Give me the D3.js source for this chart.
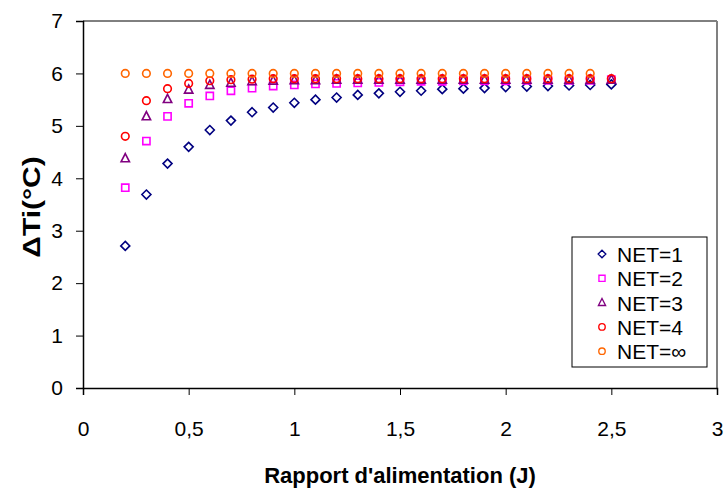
<!DOCTYPE html>
<html>
<head>
<meta charset="utf-8">
<script src="https://cdn.jsdelivr.net/npm/d3@7"></script>
<style>
body{margin:0;background:#fff;}
text{font-family:"Liberation Sans",Arial,sans-serif;}
</style>
</head>
<body>
<svg id="chart" width="727" height="490"></svg>
<script>
const xValues = [0.2,0.3,0.4,0.5,0.6,0.7,0.8,0.9,1.0,1.1,1.2,1.3,1.4,1.5,1.6,1.7,1.8,1.9,2.0,2.1,2.2,2.3,2.4,2.5];
const net1 = [2.71,3.69,4.28,4.60,4.92,5.10,5.26,5.35,5.44,5.50,5.54,5.59,5.62,5.65,5.67,5.70,5.71,5.72,5.74,5.75,5.76,5.77,5.78,5.79];
const net2 = [3.82,4.71,5.18,5.43,5.57,5.67,5.72,5.76,5.78,5.80,5.81,5.82,5.83,5.84,5.85,5.85,5.86,5.86,5.86,5.87,5.87,5.87,5.87,5.88];
const net3 = [4.38,5.18,5.51,5.69,5.78,5.82,5.85,5.86,5.87,5.87,5.88,5.88,5.88,5.88,5.88,5.88,5.88,5.88,5.88,5.88,5.88,5.88,5.88,5.88];
const net4 = [4.80,5.48,5.71,5.81,5.86,5.88,5.89,5.90,5.90,5.90,5.90,5.90,5.90,5.90,5.90,5.90,5.90,5.90,5.90,5.90,5.90,5.90,5.90,5.90];
const netInf = [6.0,6.0,6.0,6.0,6.0,6.0,6.0,6.0,6.0,6.0,6.0,6.0,6.0,6.0,6.0,6.0,6.0,6.0,6.0,6.0,6.0,6.0,6.0];
const seriesNames = ["NET=1","NET=2","NET=3","NET=4","NET=∞"];
const xTicks = [0,0.5,1,1.5,2,2.5,3];
const yTicks = [0,1,2,3,4,5,6,7];
const xTitle = "Rapport d'alimentation (J)";
const yTitle = "ΔTi(°C)";

const series = [
  {name: seriesNames[0], values: net1, color: "#000080", shape: "diamond"},
  {name: seriesNames[1], values: net2, color: "#FF00FF", shape: "square"},
  {name: seriesNames[2], values: net3, color: "#800080", shape: "triangle"},
  {name: seriesNames[3], values: net4, color: "#FF0000", shape: "circle"},
  {name: seriesNames[4], values: netInf, color: "#FF6600", shape: "circle"}
];

const svg = d3.select("#chart");
const L = 83, R = 717, T = 21, B = 388;
const x = d3.scaleLinear().domain([0,3]).range([L,R]);
const y = d3.scaleLinear().domain([0,7]).range([B,T]);

function shapePath(shape){
  if (shape === "diamond") return "M0,-4.5L4.5,0L0,4.5L-4.5,0Z";
  if (shape === "square") return "M-3.6,-3.6H3.6V3.6H-3.6Z";
  if (shape === "triangle") return "M0,-4.8L4.2,3.4H-4.2Z";
  return "M-3.8,0A3.8,3.8 0 1,0 3.8,0A3.8,3.8 0 1,0 -3.8,0Z";
}

// frame
svg.append("line").attr("x1",L).attr("x2",R).attr("y1",T).attr("y2",T).attr("stroke","#000").attr("stroke-width",1);
svg.append("line").attr("x1",R).attr("x2",R).attr("y1",T).attr("y2",B).attr("stroke","#808080").attr("stroke-width",2);

// axes
const xAxis = d3.axisBottom(x).tickValues(xTicks).tickSize(7).tickPadding(26)
  .tickFormat(d => String(d).replace(".", ","));
const gx = svg.append("g").attr("transform",`translate(0,${B})`).call(xAxis);
gx.select(".domain").attr("stroke","#000").attr("stroke-width",1.5);
gx.selectAll(".tick line").attr("stroke","#000").attr("stroke-width",1);
gx.selectAll("text").attr("font-size",21).attr("fill","#000").attr("font-family","Liberation Sans, Arial, sans-serif");

const yAxis = d3.axisLeft(y).tickValues(yTicks).tickSize(7).tickPadding(13).tickFormat(d3.format("d"));
const gy = svg.append("g").attr("transform",`translate(${L},0)`).call(yAxis);
gy.select(".domain").attr("stroke","#000").attr("stroke-width",1.5);
gy.selectAll(".tick line").attr("stroke","#000").attr("stroke-width",1);
gy.selectAll("text").attr("font-size",21).attr("fill","#000").attr("font-family","Liberation Sans, Arial, sans-serif");

// markers
series.forEach(s => {
  svg.append("g").selectAll("path")
    .data(s.values.map((v,i) => [xValues[i], v]))
    .join("path")
    .attr("d", shapePath(s.shape))
    .attr("transform", d => `translate(${x(d[0])},${y(d[1])})`)
    .attr("fill","none")
    .attr("stroke", s.color)
    .attr("stroke-width", 1.6);
});

// titles
svg.append("text").attr("transform",`translate(${(L+R)/2},483)`).attr("text-anchor","middle")
  .attr("font-size",22).attr("font-weight","bold").attr("fill","#000").text(xTitle);
svg.append("text").attr("transform","translate(40,207) rotate(-90) scale(1.25,1)").attr("text-anchor","middle")
  .attr("font-size",24).attr("font-weight","bold").attr("fill","#000").text(yTitle);

// legend
const lg = svg.append("g");
lg.append("rect").attr("x",572).attr("y",237).attr("width",135).attr("height",130)
  .attr("fill","#fff").attr("stroke","#000").attr("stroke-width",1);
series.forEach((s,i) => {
  const cy = 254 + i*24.3;
  lg.append("path").attr("d", shapePath(s.shape))
    .attr("transform",`translate(602,${cy}) scale(0.85)`)
    .attr("fill","none").attr("stroke",s.color).attr("stroke-width",1.6);
  lg.append("text").attr("x",617).attr("y",cy+8)
    .attr("font-size",21).attr("fill","#000").text(s.name);
});
</script>
</body>
</html>
